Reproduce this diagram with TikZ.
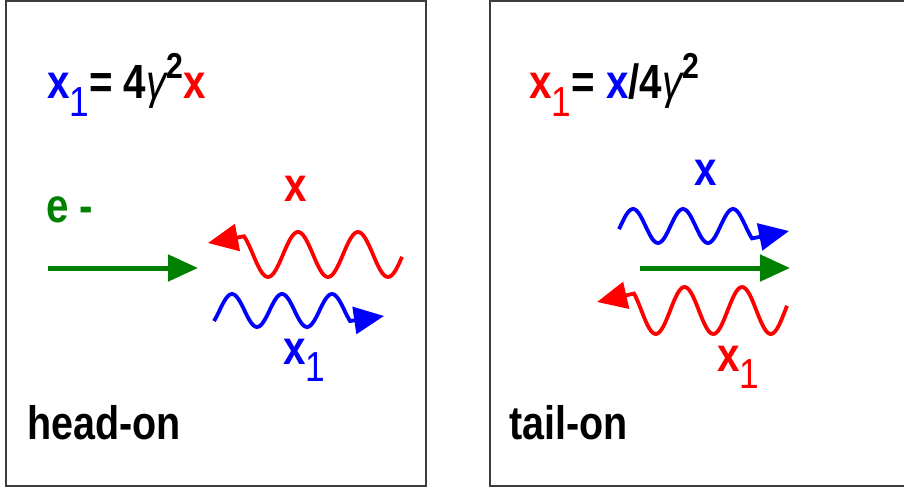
\documentclass[tikz,border=0pt]{standalone}
\usepackage{fontspec}
\setmainfont{Liberation Sans}[FakeStretch=0.84]
\usetikzlibrary{arrows.meta}
\definecolor{pblue}{RGB}{0,0,255}
\definecolor{pred}{RGB}{255,0,0}
\definecolor{pgreen}{RGB}{0,128,0}
\definecolor{frame}{RGB}{60,60,60}
\newcommand{\subone}{\raisebox{-0.36em}{\fontsize{42}{44}\selectfont\mdseries 1}}
\newcommand{\suptwo}{\raisebox{0.42em}{\fontsize{36}{38}\selectfont 2}}
\newcommand{\gam}{{\mdseries\itshape γ}}
\begin{document}
\begin{tikzpicture}[x=1pt,y=-1pt,
  panel/.style={draw=frame, line width=2.2pt},
  lbl/.style={inner sep=0pt, anchor=base west, font=\fontsize{48}{52}\selectfont\bfseries},
  big/.style={inner sep=0pt, anchor=base west, font=\fontsize{47}{50}\selectfont\bfseries},
  beam/.style={draw=pgreen, line width=5pt, -{Triangle[length=30pt,width=26pt]}},
  wave/.style={line width=3.8pt, -{Triangle[length=30pt,width=27pt]}},
]
\useasboundingbox (0,0) rectangle (904,492);
\clip (0,0) rectangle (904,492);
\fill[white] (0,0) rectangle (904,492);

% panels
\draw[panel] (6,1) rectangle (426,486);
\draw[panel] (490,1) rectangle (912,486);

% ---------- head-on ----------
\node[lbl] (fL) at (47,99) {\textcolor{pblue}{x\subone}= 4\gam\suptwo\textcolor{pred}{x}};
\node[lbl, text=pgreen] (eL) at (46,222) {e -};
\coordinate (beamLs) at (48,268);
\coordinate (beamLe) at (198,268);
\draw[beam] (beamLs) -- (beamLe);
\draw[wave, color=pred]
  plot[domain=402:244, samples=90, smooth] (\x, {254.5 - 22.5*cos((\x-238)*6)}) -- (208,243);
\draw[wave, color=pblue]
  plot[domain=214:350, samples=90, smooth] (\x, {310.5 - 16.5*cos((\x-232)*7.2)}) -- (384,316);
\node[lbl, text=pred, anchor=base] (xL) at (296,201) {x};
\node[lbl, text=pblue] (x1L) at (283,364) {x\subone};
\node[big] (hL) at (27,439) {head-on};

% ---------- tail-on ----------
\node[lbl] (fR) at (529,99) {\textcolor{pred}{x\subone}= \textcolor{pblue}{x}/4\gam\suptwo};
\node[lbl, text=pblue, anchor=base] (xR) at (706,185) {x};
\draw[wave, color=pblue]
  plot[domain=619:752, samples=90, smooth] (\x, {226 - 17*cos((\x-633)*7.2)}) -- (789,231);
\coordinate (beamRs) at (640,268);
\coordinate (beamRe) at (790,268);
\draw[beam] (beamRs) -- (beamRe);
\draw[wave, color=pred]
  plot[domain=787:634, samples=90, smooth] (\x, {310.5 - 23.5*cos((\x-627)*6.26)}) -- (597,302);
\node[lbl, text=pred] (x1R) at (717,371) {x\subone};
\node[big] (tR) at (509,439) {tail-on};
\end{tikzpicture}
\end{document}
